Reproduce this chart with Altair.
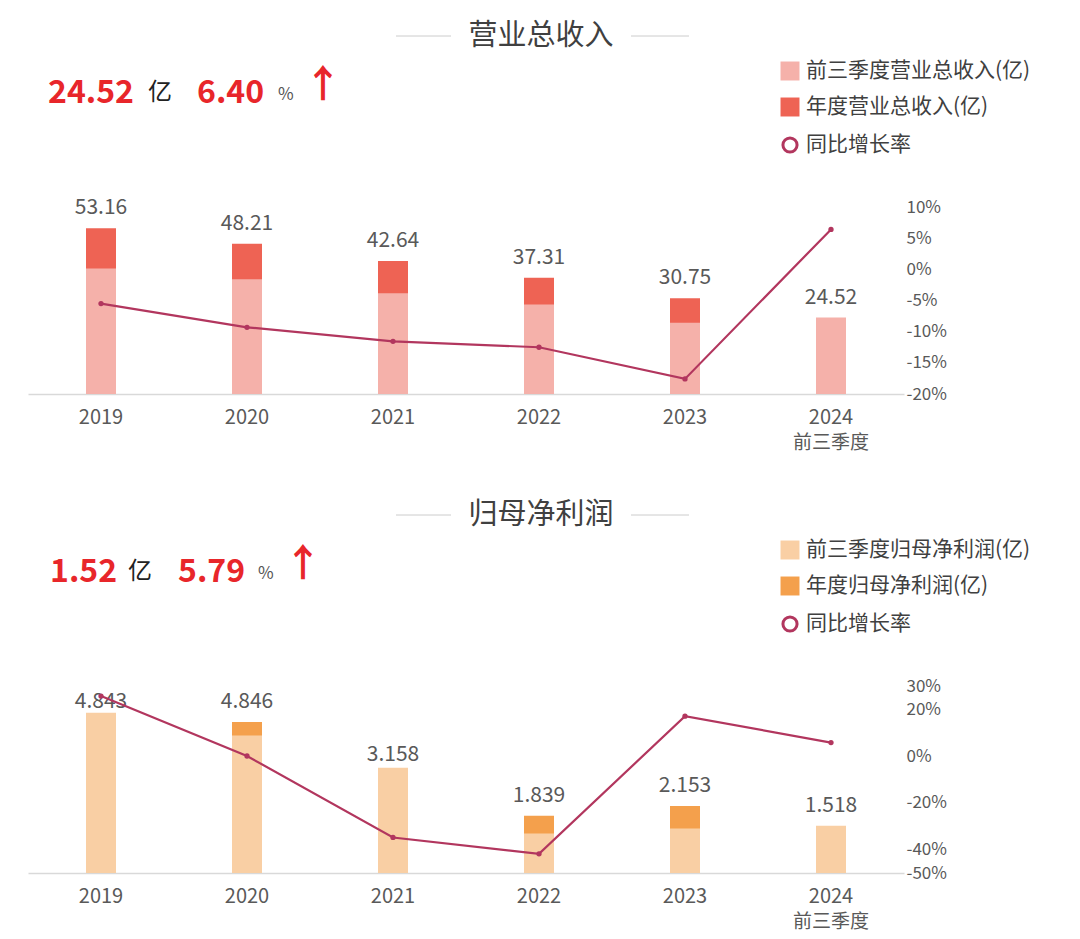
import altair as alt
import pandas as pd

FONT = "Noto Sans CJK SC"

years = ["2019", "2020", "2021", "2022", "2023", "2024 前三季度"]

# 营业总收入 (亿)
rev_q3 = [40.3, 36.8, 32.3, 28.7, 22.9, 24.52]
rev_annual = [53.16, 48.21, 42.64, 37.31, 30.75, None]
rev_yoy = [-5.5, -9.3, -11.55, -12.5, -17.58, 6.40]
rev_labels = ["53.16", "48.21", "42.64", "37.31", "30.75", "24.52"]
rev_ticks = [10, 5, 0, -5, -10, -15, -20]

# 归母净利润 (亿)
np_q3 = [5.14, 4.41, 3.38, 1.27, 1.43, 1.518]
np_annual = [4.843, 4.846, 3.158, 1.839, 2.153, None]
np_yoy = [25.7, 0.06, -34.8, -41.8, 17.07, 5.79]
np_labels = ["4.843", "4.846", "3.158", "1.839", "2.153", "1.518"]
np_ticks = [30, 20, 0, -20, -40, -50]

W, H = 876, 187
LINE_COLOR = "#b2365e"
TEXT_GREY = "#595959"


def one(text):
    return pd.DataFrame({"t": [text]})


def panel(title, q3, annual, yoy, labels, ticks, ydom, rdom, c_light, c_dark,
          leg_labels, big_val, big_pct, bx):
    df = pd.DataFrame({
        "year": years,
        "q3": q3,
        "annual": annual,
        "yoy": yoy,
        "label": labels,
    })
    df["labpos"] = [a if a is not None and a == a else q for a, q in zip(annual, q3)]

    xenc = alt.X("year:N", sort=years,
                 scale=alt.Scale(paddingInner=0, paddingOuter=0),
                 axis=alt.Axis(title=None, labelAngle=0, ticks=False,
                               domainColor="#d9d9d9", domainWidth=1.5,
                               labelFontSize=20, labelColor=TEXT_GREY,
                               labelFont=FONT, labelPadding=13,
                               labelExpr="split(datum.label, ' ')[0]"))
    base = alt.Chart(df).encode(x=xenc)
    yb = alt.Scale(domain=ydom)

    dark = base.transform_filter("isValid(datum.annual)").mark_bar(size=30, color=c_dark).encode(
        y=alt.Y("annual:Q", scale=yb, axis=None))
    light = base.mark_bar(size=30, color=c_light).encode(
        y=alt.Y("q3:Q", scale=yb, axis=None))
    vals = base.mark_text(font=FONT, fontSize=21, color=TEXT_GREY, dy=-20,
                          baseline="middle").encode(
        y=alt.Y("labpos:Q", scale=yb, axis=None), text="label:N")
    # second line of the category label (前三季度)
    sub = base.transform_calculate(sub="split(datum.year, ' ')[1]").transform_filter(
        "isValid(datum.sub)").mark_text(font=FONT, fontSize=19, color=TEXT_GREY,
                                        baseline="middle").encode(
        y=alt.value(H + 49), text="sub:N")

    yr = alt.Scale(domain=rdom)
    line = base.mark_line(color=LINE_COLOR, strokeWidth=2.2).encode(
        y=alt.Y("yoy:Q", scale=yr,
                axis=alt.Axis(orient="right", title=None, values=ticks,
                              labelExpr="datum.value + '%'", grid=False,
                              domain=False, ticks=False, labelFontSize=17,
                              labelColor=TEXT_GREY, labelFont=FONT,
                              labelPadding=2, labelOverlap=False)))
    pts = base.mark_point(filled=True, color=LINE_COLOR, size=28, opacity=1).encode(
        y=alt.Y("yoy:Q", scale=yr, axis=None))

    # header title with side lines
    ttl = alt.Chart(one(title)).mark_text(font=FONT, fontSize=29, color="#404040",
                                          align="center", baseline="middle").encode(
        x=alt.value(513), y=alt.value(-171), text="t:N")
    lineL = alt.Chart(one("l")).mark_rule(color="#cccccc", strokeWidth=1).encode(
        x=alt.value(368), x2=alt.value(423), y=alt.value(-171))
    lineR = alt.Chart(one("r")).mark_rule(color="#cccccc", strokeWidth=1).encode(
        x=alt.value(603), x2=alt.value(661), y=alt.value(-171))

    # big numbers
    red = "#e8262a"
    b1 = alt.Chart(one(big_val)).mark_text(font=FONT, fontSize=32, fontWeight="bold",
                                           color=red, align="left", baseline="middle").encode(
        x=alt.value(bx[0]), y=alt.value(-114), text="t:N")
    b2 = alt.Chart(one("亿")).mark_text(font=FONT, fontSize=24, color="#222222",
                                       align="left", baseline="middle").encode(
        x=alt.value(bx[1]), y=alt.value(-114), text="t:N")
    b3 = alt.Chart(one(big_pct)).mark_text(font=FONT, fontSize=32, fontWeight="bold",
                                           color=red, align="left", baseline="middle").encode(
        x=alt.value(bx[2]), y=alt.value(-114), text="t:N")
    b4 = alt.Chart(one("%")).mark_text(font=FONT, fontSize=17, color="#555555",
                                      align="left", baseline="middle").encode(
        x=alt.value(bx[3]), y=alt.value(-112), text="t:N")
    b5 = alt.Chart(one("↑")).mark_text(font=FONT, fontSize=38, fontWeight="bold",
                                      color=red, align="left", baseline="middle").encode(
        x=alt.value(bx[4]), y=alt.value(-121), text="t:N")

    # legend
    legs = []
    lys = [-136, -100, -62]
    sq_colors = [c_light, c_dark]
    for i, lab in enumerate(leg_labels):
        ly = lys[i]
        if i < 2:
            sym = alt.Chart(one(lab)).mark_square(size=360, color=sq_colors[i], opacity=1).encode(
                x=alt.value(762), y=alt.value(ly))
        else:
            sym = alt.Chart(one(lab)).mark_point(shape="circle", filled=False, size=200,
                                                 strokeWidth=3, color=LINE_COLOR,
                                                 opacity=1).encode(
                x=alt.value(762), y=alt.value(ly))
        txt = alt.Chart(one(lab)).mark_text(font=FONT, fontSize=21, color="#404040",
                                            align="left", baseline="middle").encode(
            x=alt.value(778), y=alt.value(ly), text="t:N")
        legs += [sym, txt]

    return alt.layer(dark, light, vals, sub, line, pts, ttl, lineL, lineR,
                     b1, b2, b3, b4, b5, *legs).resolve_scale(y="independent").properties(
        width=W, height=H)


top = panel("营业总收入", rev_q3, rev_annual, rev_yoy, rev_labels, rev_ticks,
            [0, 60], [-20, 10], "#f5b1aa", "#ee6354",
            ["前三季度营业总收入(亿)", "年度营业总收入(亿)", "同比增长率"],
            f"{rev_q3[-1]:.2f}", f"{rev_yoy[-1]:.2f}", [20, 120, 169, 250, 276])
bottom = panel("归母净利润", np_q3, np_annual, np_yoy, np_labels, np_ticks,
               [0, 6], [-50, 30], "#f9cfa4", "#f4a04c",
               ["前三季度归母净利润(亿)", "年度归母净利润(亿)", "同比增长率"],
               f"{np_q3[-1]:.2f}", f"{np_yoy[-1]:.2f}", [22, 100, 150, 230, 256])

chart = alt.vconcat(top, bottom, spacing=48).properties(
    padding={"left": 20, "top": 14, "right": 5, "bottom": 5}
).configure_view(strokeWidth=0, stroke="transparent")

chart.save("out.html", embed_options={"renderer": "svg", "actions": False})
